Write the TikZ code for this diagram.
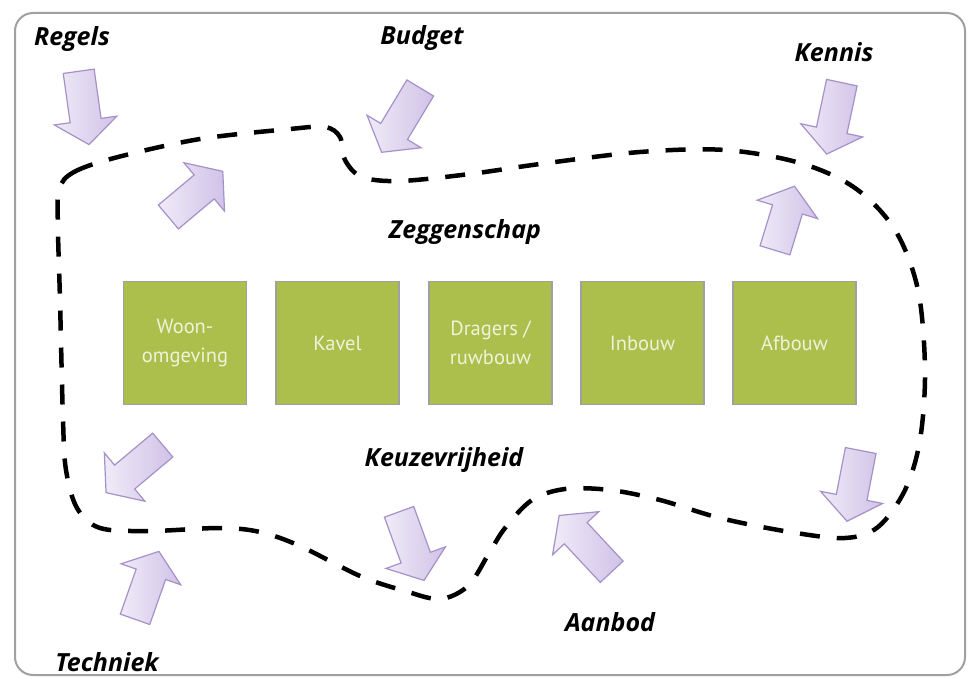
\documentclass[tikz,border=0pt]{standalone}
\usepackage{fontspec}
\setmainfont{PT Sans}
\newfontfamily\labelfont{Open Sans}
\usetikzlibrary{shapes.arrows}

\definecolor{boxgreen}{RGB}{172,191,76}
\definecolor{boxtext}{RGB}{240,242,218}
\definecolor{framegray}{RGB}{160,160,160}
\definecolor{arrowline}{RGB}{165,145,200}
\definecolor{arrowlight}{RGB}{240,235,248}
\definecolor{arrowdark}{RGB}{208,194,231}

\tikzset{
  label/.style={font=\labelfont\fontsize{25}{28}\selectfont\bfseries\itshape},
  layerbox/.style={draw=framegray, line width=1.2pt, fill=boxgreen,
    minimum width=123pt, minimum height=123pt, inner sep=0pt,
    align=center, text=boxtext, font=\fontsize{20.5}{29}\selectfont},
  inarrow/.style={single arrow, draw=arrowline, line width=1.2pt,
    left color=arrowlight, right color=arrowdark,
    single arrow head extend=16pt, single arrow tip angle=105,
    inner xsep=0pt, inner ysep=15pt}
}

\begin{document}
\begin{tikzpicture}[x=1pt,y=-1pt]
% Frame
\useasboundingbox (0,0) rectangle (968,677);
\draw[framegray, line width=2pt, rounded corners=18pt] (15,13) rectangle (965,675);

% Boundary
\draw[line width=4.5pt, dash pattern=on 20pt off 17pt] plot[smooth cycle, tension=0.55] coordinates {
  (59,190) (74,172) (118,157) (200,139) (290,129) (325,127) (340,137)
  (345,160) (362,177) (400,181) (470,174) (540,164) (640,152) (725,150)
  (800,163) (855,188) (895,230) (918,290) (925,370) (920,440) (905,490)
  (878,527) (845,538) (790,532) (720,518) (660,500) (610,490) (565,489)
  (532,500) (505,528) (488,555) (468,586) (440,599) (405,591) (360,576)
  (300,546) (260,532) (220,528) (150,531) (100,528) (77,508) (66,470)
  (63,420) (60,300) (58,230)};

% Layers
\node[layerbox] (bWoon) at (185,343) {Woon-\\omgeving};
\node[layerbox] (bKavel) at (337.5,343) {Kavel};
\node[layerbox] (bDragers) at (490.5,343) {Dragers /\\ruwbouw};
\node[layerbox] (bInbouw) at (642.5,343) {Inbouw};
\node[layerbox] (bAfbouw) at (794.5,343) {Afbouw};

% Labels
\node[label] (lRegels) at (72,39) {Regels};
\node[label] (lBudget) at (422,38) {Budget};
\node[label] (lKennis) at (834,52) {Kennis};
\node[label] (lZeggen) at (465,232) {Zeggenschap};
\node[label] (lKeuze) at (444,460) {Keuzevrijheid};
\node[label] (lAanbod) at (610,622) {Aanbod};
\node[label] (lTechniek) at (107,662) {Techniek};

% Arrows
\foreach \name/\x/\y/\ang/\len in {
    aRegels/83/102/-82/74, aBudget/404/115/-121/75,
    aKennis/835.5/112.5/-102/73, aZegLeft/191/198/40/71,
    aZegRight/783/224/73/67, aKeuzLeft/139/465/-140/74,
    aKeuzMid/409.5/540.5/-70/73, aAanbod/589.5/548/133/77,
    aKeuzRight/855/480/-101/72, aTechniek/145/591/70.6/72}
  \node[inarrow, minimum height=\len pt, rotate=\ang] (\name) at (\x,\y) {};
\end{tikzpicture}
\end{document}
